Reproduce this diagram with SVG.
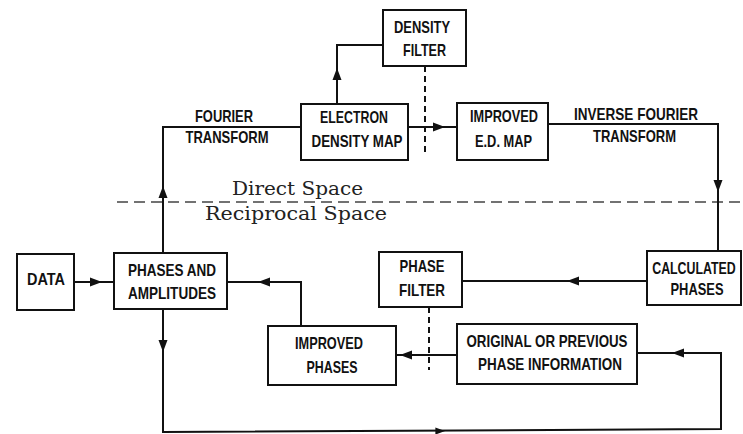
<svg xmlns="http://www.w3.org/2000/svg" xmlns:xlink="http://www.w3.org/1999/xlink" width="743" height="434" viewBox="0 0 743 434">
<style>
.box{fill:#fff;stroke:#111;stroke-width:2}
.conn{fill:none;stroke:#111;stroke-width:2}
.dash{fill:none;stroke:#111;stroke-width:2;stroke-dasharray:6 4}
.sep{fill:none;stroke:#444;stroke-width:1.5;stroke-dasharray:11 6}
.lbl{font-family:"Liberation Sans Narrow","Liberation Sans",Arial,sans-serif;font-weight:bold;font-size:16.5px;fill:#111;text-anchor:middle}
.space{font-family:"DejaVu Serif","Liberation Serif",serif;font-size:19px;fill:#222}
</style>
<defs>
<path id="ah" d="M0,0 L-12,-4.5 L-12,4.5 Z" fill="#111"/>
</defs>
<rect width="743" height="434" fill="#fff"/>

<g id="connectors">
<path class="sep" d="M117,202 H743"/>
<path class="conn" d="M163,253 V127 H301"/>
<path class="conn" d="M163,309 V432 L721,429 V353 H637"/>
<path class="conn" d="M408,127 H457"/>
<path class="conn" d="M337,104 V45 H383"/>
<path class="conn" d="M548,124 H718 V251"/>
<path class="conn" d="M647,281 H462"/>
<path class="conn" d="M457,355 H396"/>
<path class="conn" d="M301,326 V282 H227"/>
<path class="conn" d="M74,282 H114"/>
<path class="dash" d="M425,66 V152"/>
<path class="dash" d="M429,307 V370"/>
<use xlink:href="#ah" transform="translate(163,186) rotate(-90)"/>
<use xlink:href="#ah" transform="translate(337,68) rotate(-90)"/>
<use xlink:href="#ah" transform="translate(445,127)"/>
<use xlink:href="#ah" transform="translate(718,192) rotate(90)"/>
<use xlink:href="#ah" transform="translate(567,281) rotate(180)"/>
<use xlink:href="#ah" transform="translate(400,355) rotate(180)"/>
<use xlink:href="#ah" transform="translate(258,282) rotate(180)"/>
<use xlink:href="#ah" transform="translate(102,282)"/>
<use xlink:href="#ah" transform="translate(163,352) rotate(90)"/>
<use xlink:href="#ah" transform="translate(672,353) rotate(180)"/>
<use xlink:href="#ah" transform="translate(445,431) scale(0.8)"/>
<text class="lbl" x="224" y="122" textLength="58" lengthAdjust="spacingAndGlyphs">FOURIER</text>
<text class="lbl" x="227" y="143" textLength="83" lengthAdjust="spacingAndGlyphs">TRANSFORM</text>
<text class="lbl" x="636" y="120" textLength="124" lengthAdjust="spacingAndGlyphs">INVERSE FOURIER</text>
<text class="lbl" x="634.5" y="142" textLength="83" lengthAdjust="spacingAndGlyphs">TRANSFORM</text>
</g>

<text class="space" x="232" y="195" textLength="131" lengthAdjust="spacingAndGlyphs">Direct Space</text>
<text class="space" x="205" y="220" textLength="182" lengthAdjust="spacingAndGlyphs">Reciprocal Space</text>

<g id="density-filter">
<rect class="box" x="383" y="10" width="83" height="56"/>
<text class="lbl" x="422" y="33" textLength="56" lengthAdjust="spacingAndGlyphs">DENSITY</text>
<text class="lbl" x="424.5" y="56" textLength="43" lengthAdjust="spacingAndGlyphs">FILTER</text>
</g>
<g id="electron-density-map">
<rect class="box" x="301" y="104" width="107" height="56"/>
<text class="lbl" x="354" y="123" textLength="68" lengthAdjust="spacingAndGlyphs">ELECTRON</text>
<text class="lbl" x="357" y="147" textLength="91" lengthAdjust="spacingAndGlyphs">DENSITY MAP</text>
</g>
<g id="improved-ed-map">
<rect class="box" x="457" y="103" width="91" height="57"/>
<text class="lbl" x="504" y="122" textLength="68" lengthAdjust="spacingAndGlyphs">IMPROVED</text>
<text class="lbl" x="503.5" y="147" textLength="57" lengthAdjust="spacingAndGlyphs">E.D. MAP</text>
</g>
<g id="data">
<rect class="box" x="17" y="254" width="57" height="56"/>
<text class="lbl" x="46" y="285" textLength="38" lengthAdjust="spacingAndGlyphs">DATA</text>
</g>
<g id="phases-and-amplitudes">
<rect class="box" x="114" y="253" width="113" height="56"/>
<text class="lbl" x="172" y="276" textLength="88" lengthAdjust="spacingAndGlyphs">PHASES AND</text>
<text class="lbl" x="172" y="299" textLength="88" lengthAdjust="spacingAndGlyphs">AMPLITUDES</text>
</g>
<g id="phase-filter">
<rect class="box" x="379" y="252" width="83" height="55"/>
<text class="lbl" x="422" y="272" textLength="45" lengthAdjust="spacingAndGlyphs">PHASE</text>
<text class="lbl" x="422" y="296" textLength="46" lengthAdjust="spacingAndGlyphs">FILTER</text>
</g>
<g id="calculated-phases">
<rect class="box" x="647" y="251" width="94" height="54"/>
<text class="lbl" transform="translate(694,274) scale(0.75,1)">CALCULATED</text>
<text class="lbl" x="697" y="295" textLength="53" lengthAdjust="spacingAndGlyphs">PHASES</text>
</g>
<g id="improved-phases">
<rect class="box" x="268" y="326" width="128" height="59"/>
<text class="lbl" x="329" y="349" textLength="68" lengthAdjust="spacingAndGlyphs">IMPROVED</text>
<text class="lbl" x="332" y="373" textLength="51" lengthAdjust="spacingAndGlyphs">PHASES</text>
</g>
<g id="original-phase-information">
<rect class="box" x="457" y="324" width="180" height="60"/>
<text class="lbl" x="547" y="347" textLength="161" lengthAdjust="spacingAndGlyphs">ORIGINAL OR PREVIOUS</text>
<text class="lbl" x="550" y="370" textLength="144" lengthAdjust="spacingAndGlyphs">PHASE INFORMATION</text>
</g>
</svg>
